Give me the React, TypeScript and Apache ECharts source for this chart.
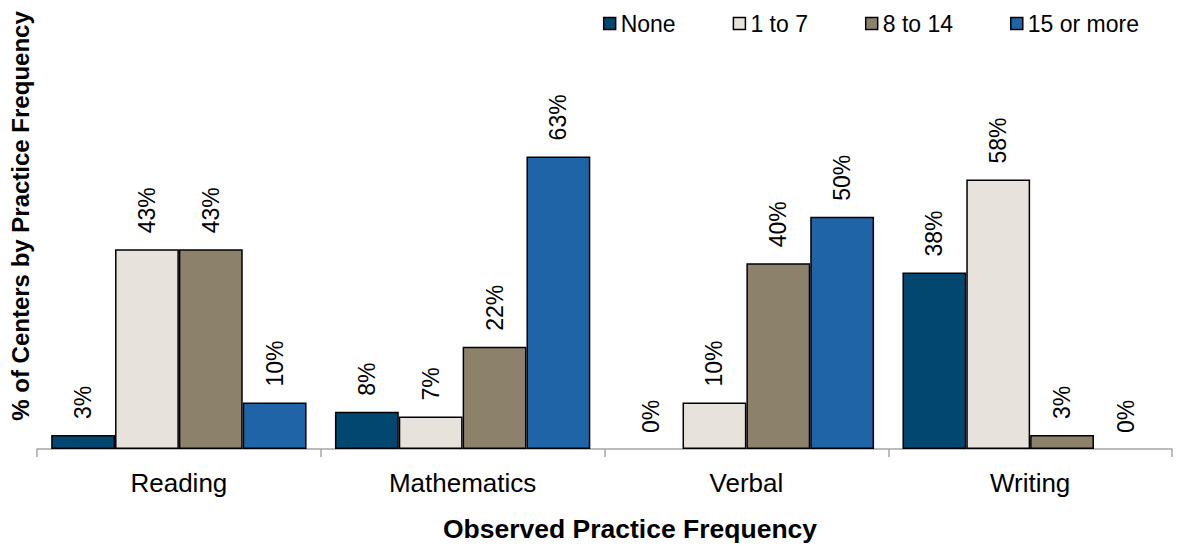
import React, { useEffect, useRef } from "react";
import * as echarts from "echarts";

const categories = ["Reading", "Mathematics", "Verbal", "Writing"];
const seriesNames = ["None", "1 to 7", "8 to 14", "15 or more"];
const noneValues = [3, 8, 0, 38];
const oneToSevenValues = [43, 7, 10, 58];
const eightToFourteenValues = [43, 22, 40, 3];
const fifteenPlusValues = [10, 63, 50, 0];
const seriesColors = ["#02476F", "#E7E2DB", "#8C826C", "#2064A8"];
const xTitle = "Observed Practice Frequency";
const yTitle = "% of Centers by Practice Frequency";

const FONT = "'Liberation Sans', Arial, Helvetica, sans-serif";

export default function App() {
  const ref = useRef<HTMLDivElement>(null);
  useEffect(() => {
    if (!ref.current) return;
    document.body.style.margin = "0";
    const chart = echarts.init(ref.current, null, { renderer: "svg" });
    const allValues = [noneValues, oneToSevenValues, eightToFourteenValues, fifteenPlusValues];
    const series = allValues.map((vals, i) => ({
      name: seriesNames[i],
      type: "bar",
      barGap: "0%",
      barCategoryGap: "10%",
      itemStyle: { color: seriesColors[i], borderColor: "#000", borderWidth: 1.5 },
      label: {
        show: true,
        position: "top",
        rotate: 90,
        align: "left",
        verticalAlign: "middle",
        distance: 16,
        formatter: "{c}%",
        fontFamily: FONT,
        fontSize: 23,
        color: "#000",
      },
      data: vals.map((v) => (v === 0 ? { value: v, itemStyle: { borderWidth: 0 } } : v)),
    }));
    chart.setOption({
      animation: false,
      textStyle: { fontFamily: FONT },
      grid: { left: 37, right: 5, top: 31, bottom: 97 },
      legend: {
        top: 7,
        right: 33,
        itemWidth: 12,
        itemHeight: 12,
        itemGap: 57,
        icon: "rect",
        textStyle: { fontFamily: FONT, fontSize: 23, color: "#000" },
        itemStyle: { borderColor: "#000", borderWidth: 1.5 },
        data: seriesNames,
      },
      xAxis: {
        type: "category",
        data: categories,
        axisLine: { lineStyle: { color: "#A6A6A6", width: 1.5 } },
        axisTick: { show: true, length: 8, lineStyle: { color: "#A6A6A6", width: 1.5 } },
        axisLabel: { fontFamily: FONT, fontSize: 26, color: "#000", margin: 21 },
      },
      yAxis: {
        type: "value",
        min: 0,
        max: 90,
        axisLabel: { show: false },
        axisLine: { show: false },
        axisTick: { show: false },
        splitLine: { show: false },
      },
      graphic: [
        {
          type: "text",
          x: 630,
          y: 529,
          style: {
            text: xTitle,
            fontFamily: FONT,
            fontSize: 26.5,
            fontWeight: "bold",
            fill: "#000",
            align: "center",
            verticalAlign: "middle",
          },
        },
        {
          type: "text",
          x: 20,
          y: 216,
          rotation: Math.PI / 2,
          style: {
            text: yTitle,
            fontFamily: FONT,
            fontSize: 24,
            fontWeight: "bold",
            fill: "#000",
            align: "center",
            verticalAlign: "middle",
          },
        },
      ],
      series,
    });
    return () => chart.dispose();
  }, []);
  return <div ref={ref} style={{ width: 1177, height: 546 }} />;
}
